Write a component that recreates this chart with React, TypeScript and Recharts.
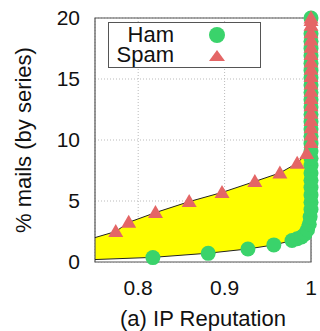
import {
  Area,
  CartesianGrid,
  ComposedChart,
  Legend,
  Line,
  ReferenceArea,
  Scatter,
  XAxis,
  YAxis,
} from "recharts";

const GREEN = "#3ad36b";
const RED = "#e46666";
const FONT = "'Liberation Sans', Arial, Helvetica, sans-serif";

const xTicks = [0.8, 0.9, 1];
const yTicks = [0, 5, 10, 15, 20];

// upper edge of the band (spam)
const spamLineX = [0.75, 0.774, 0.789, 0.82, 0.859, 0.897, 0.935, 0.964, 0.984, 0.995, 1, 1];
const spamLineY = [2.0, 2.5, 3.25, 4.05, 4.95, 5.7, 6.6, 7.3, 8.1, 8.9, 9.8, 20];

// lower edge of the band (ham)
const hamLineX = [0.75, 0.817, 0.881, 0.927, 0.957, 0.978, 0.989, 0.995, 0.998, 1, 1];
const hamLineY = [0.2, 0.38, 0.72, 1.07, 1.4, 1.75, 2.05, 2.5, 3.2, 4.2, 20];

// markers
const spamPtX = [
  0.774, 0.789, 0.82, 0.859, 0.897, 0.935, 0.964, 0.984, 0.995, 1, 1, 1, 1, 1, 1, 1, 1, 1, 1, 1, 1, 1, 1, 1, 1,
  1, 1, 1,
];
const spamPtY = [
  2.5, 3.25, 4.05, 4.95, 5.7, 6.6, 7.3, 8.1, 8.9, 9.8, 10.4, 11.0, 11.6, 12.2, 12.8, 13.4, 14.0, 14.6, 15.2,
  15.8, 16.4, 17.0, 17.6, 18.2, 18.8, 19.4, 19.8, 20,
];
const hamPtX = [
  0.817, 0.881, 0.927, 0.957, 0.978, 0.984, 0.989, 0.993, 0.996, 0.998, 0.999, 1, 1, 1, 1, 1, 1, 1, 1, 1, 1, 1,
  1, 1, 1, 1, 1, 1, 1, 1, 1, 1, 1, 1, 1, 1, 1,
];
const hamPtY = [
  0.36, 0.71, 1.07, 1.4, 1.76, 1.9, 2.05, 2.3, 2.65, 3.1, 3.7, 4.3, 4.9, 5.5, 6.1, 6.7, 7.3, 7.9, 8.5, 9.1, 9.7,
  10.3, 10.9, 11.5, 12.1, 12.7, 13.3, 13.9, 14.5, 15.1, 15.7, 16.3, 16.9, 17.5, 18.1, 18.7, 20,
];

const zip = (xs: number[], ys: number[]) => xs.map((x, i) => ({ x, y: ys[i] }));

const spamLine = zip(spamLineX, spamLineY);
const hamLine = zip(hamLineX, hamLineY);
const spamFill = spamLine.slice(0, -1);
const hamFill = hamLine.slice(0, -1);
const spamPts = zip(spamPtX, spamPtY);
const hamPts = zip(hamPtX, hamPtY);

const Dot = (p: any) => <circle cx={p.cx} cy={p.cy} r={7.5} fill={GREEN} />;
const Tri = (p: any) => (
  <path d={`M${p.cx},${p.cy - 7.5}L${p.cx + 7.5},${p.cy + 5.5}L${p.cx - 7.5},${p.cy + 5.5}Z`} fill={RED} />
);

function LegendBox() {
  return (
    <div
      style={{
        position: "relative",
        width: 153,
        height: 46,
        boxSizing: "border-box",
        border: "1px solid #555",
        background: "#fff",
        fontFamily: FONT,
        fontSize: 22,
        color: "#111",
      }}
    >
      <div style={{ position: "absolute", right: 86, top: 2, lineHeight: "20px" }}>Ham</div>
      <div style={{ position: "absolute", right: 86, top: 22, lineHeight: "20px" }}>Spam</div>
      <svg width={20} height={44} style={{ position: "absolute", left: 98, top: 0 }}>
        <circle cx={10} cy={12} r={8} fill={GREEN} />
        <path d="M10,27L18,38L2,38Z" fill={RED} />
      </svg>
    </div>
  );
}

export default function App() {
  const tickStyle = { fontSize: 21, fontFamily: FONT, fill: "#111" };
  return (
    <div style={{ position: "absolute", left: 0, top: 0, background: "#fff" }}>
      <ComposedChart width={320} height={331} margin={{ top: 18, right: 9, bottom: 0, left: 0 }}>
        <CartesianGrid stroke="#bbb" strokeDasharray="1 2" />
        <XAxis
          type="number"
          dataKey="x"
          domain={[0.75, 1]}
          ticks={xTicks}
          height={69}
          axisLine={false}
          tickLine={false}
          tickSize={0}
          tickMargin={18}
          tick={tickStyle}
          tickFormatter={(v: number) => (v === 1 ? "1" : v.toFixed(1))}
          label={{ value: "(a) IP Reputation", position: "insideBottom", offset: 5, style: { fontSize: 22, fontFamily: FONT, fill: "#111" } }}
        />
        <YAxis
          type="number"
          dataKey="y"
          domain={[0, 20]}
          ticks={yTicks}
          width={95}
          axisLine={false}
          tickLine={false}
          tickSize={0}
          tickMargin={15}
          tick={tickStyle}
          label={{
            value: "% mails (by series)",
            angle: -90,
            position: "insideLeft",
            offset: 23,
            style: { textAnchor: "middle", fontSize: 22, fontFamily: FONT, fill: "#111" },
          }}
        />
        <Area data={spamFill} dataKey="y" type="linear" stroke="none" fill="#ffff00" fillOpacity={1} isAnimationActive={false} />
        <Area data={hamFill} dataKey="y" type="linear" stroke="none" fill="#ffffff" fillOpacity={1} isAnimationActive={false} />
        <Line data={spamLine} dataKey="y" type="linear" stroke="#222" strokeWidth={1} dot={false} isAnimationActive={false} />
        <Line data={hamLine} dataKey="y" type="linear" stroke="#222" strokeWidth={1} dot={false} isAnimationActive={false} />
        <Scatter name="Ham" data={hamPts} dataKey="y" shape={Dot} isAnimationActive={false} />
        <Scatter name="Spam" data={spamPts} dataKey="y" shape={Tri} isAnimationActive={false} />
        <ReferenceArea x1={0.75} x2={1} y1={0} y2={20} fill="none" stroke="#555" strokeWidth={1.2} ifOverflow="visible" />
        <Legend
          layout="horizontal"
          verticalAlign="middle"
          align="center"
          content={() => <LegendBox />}
          wrapperStyle={{ left: 108, top: 22, width: 153, height: 46 }}
        />
      </ComposedChart>
    </div>
  );
}
